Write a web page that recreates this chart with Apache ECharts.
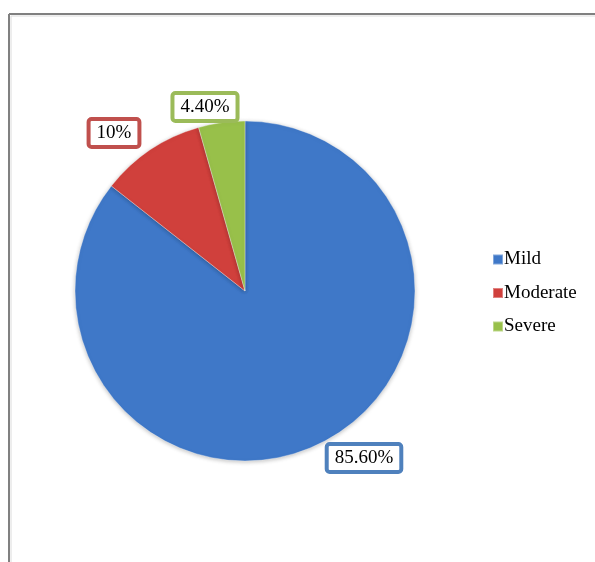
<!DOCTYPE html>
<html><head><meta charset="utf-8">
<script src="https://cdn.jsdelivr.net/npm/echarts@6/dist/echarts.min.js"></script>
<style>html,body{margin:0;padding:0;background:#fff}#c{width:595px;height:562px}</style>
</head><body><div id="c"></div>
<script>
const categories = ['Mild', 'Moderate', 'Severe'];
const values = [85.6, 10, 4.4];
const labelTexts = ['85.60%', '10%', '4.40%'];

const fills = ['#3f78c8', '#d0403c', '#98c04a'];
const borders = ['#4F81BD', '#C0504D', '#9BBB59'];
const labelPos = [[364, 458], [114, 133], [205, 107]];

const chart = echarts.init(document.getElementById('c'));
chart.setOption({
  backgroundColor: '#fff',
  animation: false,
  graphic: [
    {type: 'line', shape: {x1: 9, y1: 14, x2: 595, y2: 14}, style: {stroke: '#808080', lineWidth: 2}},
    {type: 'line', shape: {x1: 9, y1: 14, x2: 9, y2: 562}, style: {stroke: '#808080', lineWidth: 2}},
    {type: 'line', shape: {x1: 11, y1: 16, x2: 595, y2: 16}, style: {stroke: '#dcdcdc', lineWidth: 1}},
    {type: 'line', shape: {x1: 11, y1: 16, x2: 11, y2: 562}, style: {stroke: '#dcdcdc', lineWidth: 1}}
  ],
  legend: {
    orient: 'vertical',
    left: 487,
    top: 245,
    itemWidth: 10,
    itemHeight: 10,
    itemGap: 14.5,
    icon: 'rect',
    textStyle: {fontFamily: 'Liberation Serif', fontSize: 19, color: '#000', padding: [0, 0, 0, -4]},
    data: categories.map((c, i) => ({name: c, itemStyle: {color: fills[i]}}))
  },
  series: [{
    type: 'pie',
    center: [245, 291],
    radius: [0, 170],
    startAngle: 90,
    clockwise: true,
    data: categories.map((c, i) => ({
      name: c,
      value: values[i],
      itemStyle: {
        color: fills[i],
        borderColor: 'rgba(255,255,255,0.35)',
        borderWidth: 1,
        shadowColor: 'rgba(0,0,0,0.25)',
        shadowBlur: 4,
        shadowOffsetY: 1
      },
      label: {
        formatter: labelTexts[i],
        borderColor: borders[i]
      }
    })),
    label: {
      show: true,
      position: 'outside',
      fontFamily: 'Liberation Serif',
      fontSize: 19,
      color: '#000',
      backgroundColor: '#fff',
      borderWidth: 4,
      borderRadius: 1,
      padding: [3, 6, 2, 6]
    },
    labelLine: {show: false},
    labelLayout: function (p) {
      const pos = labelPos[p.dataIndex];
      return {x: pos[0], y: pos[1], align: 'center', verticalAlign: 'middle'};
    },
    emphasis: {disabled: true}
  }]
});
</script></body></html>
